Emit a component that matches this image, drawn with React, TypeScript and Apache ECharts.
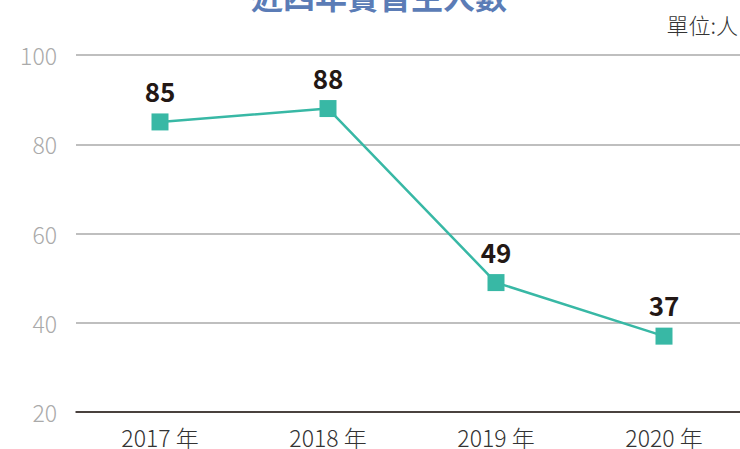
import React, { useEffect, useRef } from "react";
import * as echarts from "echarts";

const categories = ["2017 年", "2018 年", "2019 年", "2020 年"];
const values = [85, 88, 49, 37];
const titleText = "近四年實習生人數";
const unitText = "單位:人";

const FONT = '"Noto Sans CJK TC", "Noto Sans", sans-serif';
const CHART_W = 760;

export default function App() {
  const ref = useRef<HTMLDivElement>(null);
  useEffect(() => {
    if (!ref.current) return;
    const chart = echarts.init(ref.current, null, { renderer: "svg" });
    chart.setOption({
      animation: false,
      textStyle: { fontFamily: FONT },
      title: {
        text: titleText,
        left: 246,
        top: -26,
        textStyle: { fontSize: 32, fontWeight: "bold", color: "#5b7cb6", fontFamily: FONT },
      },
      graphic: [
        {
          type: "text",
          right: CHART_W - 740 + 2,
          top: 13,
          style: { text: unitText, fontSize: 22, fill: "#333333", fontFamily: FONT, fontWeight: 300 },
        },
      ],
      grid: { left: 76, right: CHART_W - 748, top: 55, bottom: 37, containLabel: false },
      xAxis: {
        type: "category",
        data: categories,
        boundaryGap: true,
        axisLine: { show: true, lineStyle: { color: "#231815", width: 1.5 } },
        axisTick: { show: false },
        axisLabel: {
          color: "#333333",
          fontSize: 23,
          lineHeight: 23,
          fontWeight: 300,
          margin: 13,
          fontFamily: FONT,
        },
      },
      yAxis: {
        type: "value",
        min: 20,
        max: 100,
        interval: 20,
        axisLine: { show: false },
        axisTick: { show: false },
        axisLabel: { color: "#aaaaaa", fontSize: 23, fontWeight: 300, margin: 19, fontFamily: FONT },
        splitLine: { lineStyle: { color: "#aaaaaa", width: 1.5 } },
      },
      series: [
        {
          type: "line",
          data: values,
          symbol: "rect",
          symbolSize: 17,
          itemStyle: { color: "#38b8a5" },
          lineStyle: { color: "#38b8a5", width: 2.5 },
          label: {
            show: true,
            position: "top",
            distance: 10,
            fontSize: 26,
            fontWeight: "bold",
            color: "#231815",
            fontFamily: FONT,
          },
        },
      ],
    });
    return () => chart.dispose();
  }, []);
  return (
    <div
      style={{ position: "absolute", left: 0, top: 0, width: 740, height: 449, overflow: "hidden" }}
    >
      <div ref={ref} style={{ width: CHART_W, height: 449 }} />
    </div>
  );
}
